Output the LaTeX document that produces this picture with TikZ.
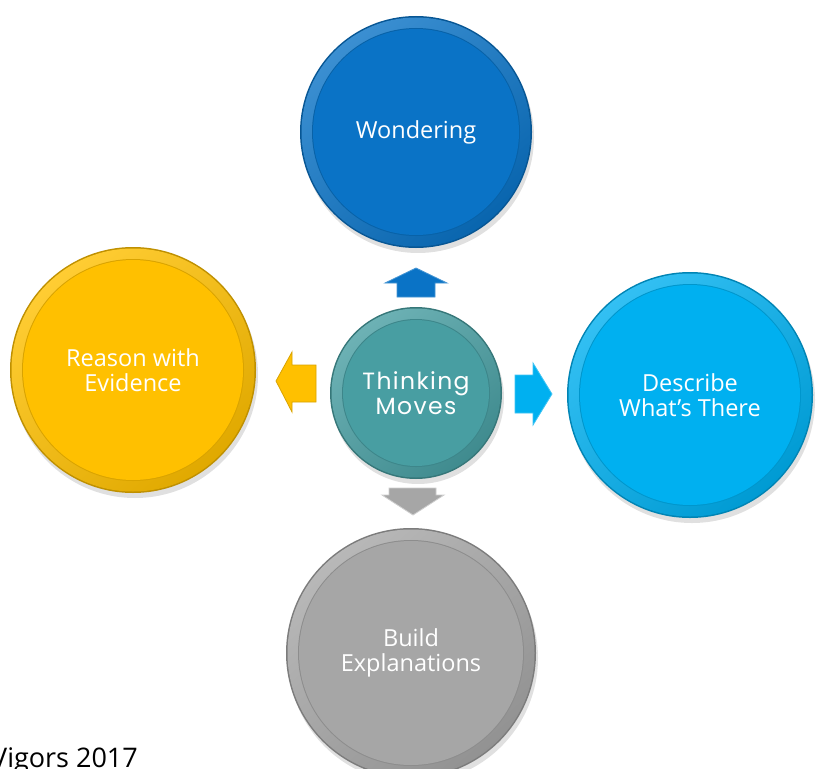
\documentclass[tikz,border=0pt]{standalone}
\usepackage{fontspec}
\setmainfont{Open Sans}
\newfontfamily\thinkfont{Poppins}[LetterSpace=6]
\definecolor{cblue}{RGB}{10,115,198}
\definecolor{ccyan}{RGB}{0,176,240}
\definecolor{cgold}{RGB}{255,192,0}
\definecolor{cgray}{RGB}{166,166,166}
\definecolor{cteal}{RGB}{72,158,162}
\tikzset{
  bubbletext/.style={circle, inner sep=0pt, align=center, text=white,
    font=\fontsize{23.5}{25}\selectfont},
  blockarrow/.style={line width=0.8pt, line join=miter},
}
\newcommand{\mybubble}[6]{%
  \begin{scope}[shift={(#2,#3)}]
    \fill[black,opacity=.12] (2pt,-5pt) circle[radius=#4 pt];
    \fill[#5!75!black] (0,0) circle[radius=#4 pt];
    \shade[top color=#5!80!white, bottom color=#5!88!black, shading angle=40]
      (0,0) circle[radius=#4 pt-1.5pt];
    \fill[#5!85!black] (0,0) circle[radius=#4 pt-12pt];
    \fill[#5] (0,0) circle[radius=#4 pt-13pt];
  \end{scope}
  \node[bubbletext, minimum size=2*#4 pt] (#1) at (#2,#3) {#6};
}
\begin{document}
\begin{tikzpicture}[x=1pt,y=-1pt]
\fill[white] (0,0) rectangle (816,768);
\useasboundingbox (0,0) rectangle (816,768);

\mybubble{wonder}{416}{132}{116}{cblue}{Wondering}
\mybubble{reason}{133}{370}{123}{cgold}{Reason with\\Evidence}
\mybubble{describe}{690}{395}{123}{ccyan}{Describe\\What's There}
\mybubble{build}{411}{653}{125}{cgray}{Build\\Explanations}
\mybubble{think}{416}{393}{86}{cteal}{}
\node[bubbletext, font=\thinkfont\fontsize{23.5}{25}\selectfont] (thinklabel) at (416,393) {Thinking\\Moves};

% block arrows
\filldraw[blockarrow, fill=cblue, draw=cblue!75!white]
  (416,268) -- (447,283) -- (435,283) -- (435,297) -- (397,297) -- (397,283) -- (385,283) -- cycle;
\filldraw[blockarrow, fill=ccyan, draw=ccyan!75!white]
  (552,394) -- (533,425) -- (533,413) -- (515,413) -- (515,375) -- (533,375) -- (533,363) -- cycle;
\filldraw[blockarrow, fill=cgray, draw=cgray!55!white]
  (413,515) -- (444,495) -- (436,495) -- (436,488) -- (389,488) -- (389,495) -- (382,495) -- cycle;
\filldraw[blockarrow, fill=cgold, draw=cgold!85!black]
  (276,381) -- (292,352) -- (292,365) -- (316,365) -- (316,402) -- (292,402) -- (292,412) -- cycle;

\node[anchor=base west, inner sep=0pt, font=\fontsize{27}{30}\selectfont] (credit)
  at (-9,767) {Vigors 2017};
\end{tikzpicture}
\end{document}
